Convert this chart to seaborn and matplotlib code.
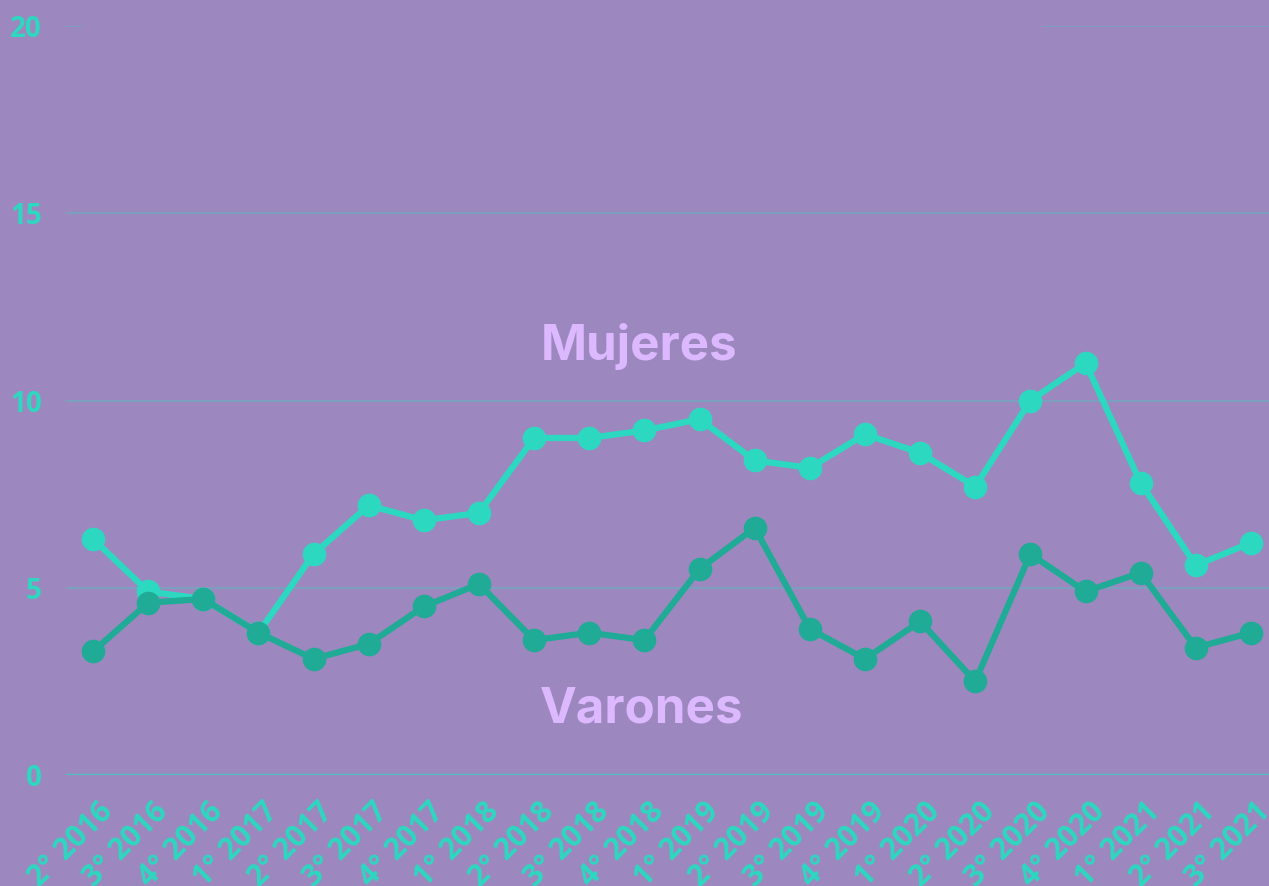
import matplotlib
matplotlib.use("Agg")
import matplotlib.pyplot as plt
import matplotlib.transforms as mtransforms
import seaborn as sns
import pandas as pd

periods = ["2° 2016", "3° 2016", "4° 2016",
           "1° 2017", "2° 2017", "3° 2017", "4° 2017",
           "1° 2018", "2° 2018", "3° 2018", "4° 2018",
           "1° 2019", "2° 2019", "3° 2019", "4° 2019",
           "1° 2020", "2° 2020", "3° 2020", "4° 2020",
           "1° 2021", "2° 2021", "3° 2021"]
mujeres = [6.3, 4.9, 4.7, 3.8, 5.9, 7.2, 6.8, 7.0, 9.0, 9.0, 9.2,
           9.5, 8.4, 8.2, 9.1, 8.6, 7.7, 10.0, 11.0, 7.8, 5.6, 6.2]
varones = [3.3, 4.6, 4.7, 3.8, 3.1, 3.5, 4.5, 5.1, 3.6, 3.8, 3.6,
           5.5, 6.6, 3.9, 3.1, 4.1, 2.5, 5.9, 4.9, 5.4, 3.4, 3.8]
series_names = ["Mujeres", "Varones"]
yticks = [0, 5, 10, 15, 20]

BG = "#9d87bf"
C_MUJ = "#2dd8c0"
C_VAR = "#1fab95"
C_LABEL = "#dcb8ff"

df = pd.DataFrame({
    "idx": list(range(len(periods))) * 2,
    "valor": mujeres + varones,
    "serie": [series_names[0]] * len(periods) + [series_names[1]] * len(periods),
})

sns.set_theme(style="white")
plt.rcParams["font.family"] = ["Open Sans", "DejaVu Sans"]

fig = plt.figure(figsize=(12.69, 8.86), dpi=100)
fig.patch.set_facecolor(BG)
ax = fig.add_axes([65.5 / 1269, 111 / 886, 1213 / 1269, 749 / 886])
ax.set_facecolor(BG)

# grid lines
grid_kw = dict(color=C_MUJ, alpha=0.35, linewidth=1.2, zorder=0)
for v in yticks[1:-1]:
    ax.axhline(v, **grid_kw)
ax.axhline(yticks[-1], xmin=0, xmax=0.0136, **grid_kw)
ax.axhline(yticks[-1], xmin=0.806, xmax=1, **grid_kw)
ax.axhline(yticks[0], color=C_MUJ, alpha=0.7, linewidth=2.5, zorder=0)

sns.lineplot(data=df, x="idx", y="valor", hue="serie", hue_order=series_names,
             palette=[C_MUJ, C_VAR], marker="o", markersize=17,
             markeredgewidth=0, linewidth=4.5, legend=False, ax=ax, zorder=3)

ax.set_xlim(-0.5, len(periods) - 0.5)
ax.set_ylim(0, 20)
ax.set_xlabel("")
ax.set_ylabel("")
for s in ax.spines.values():
    s.set_visible(False)

ax.set_yticks(yticks)
ax.set_yticklabels([str(v) for v in yticks], fontsize=20, fontweight="bold", color=C_MUJ)
ax.tick_params(axis="y", length=0, pad=17)

ax.set_xticks(range(len(periods)))
ax.set_xticklabels(periods, fontsize=21.5, fontweight="bold", color=C_MUJ,
                   rotation=45, ha="right", va="center", rotation_mode="anchor")
ax.tick_params(axis="x", length=0, pad=0)
offset = mtransforms.ScaledTranslation(15 / 100, -32 / 100, fig.dpi_scale_trans)
for lab in ax.get_xticklabels():
    lab.set_transform(lab.get_transform() + offset)

ax.text(len(periods) / 2 - 1.1, 11.45, "Mujeres", fontsize=35.5, fontweight="bold",
        family=["Inter", "DejaVu Sans"], color=C_LABEL, ha="center", va="center", zorder=4)
ax.text(len(periods) / 2 - 1.05, 1.75, "Varones", fontsize=35.5, fontweight="bold",
        family=["Inter", "DejaVu Sans"], color=C_LABEL, ha="center", va="center", zorder=4)

fig.savefig("out.png", dpi=100, facecolor=BG)
